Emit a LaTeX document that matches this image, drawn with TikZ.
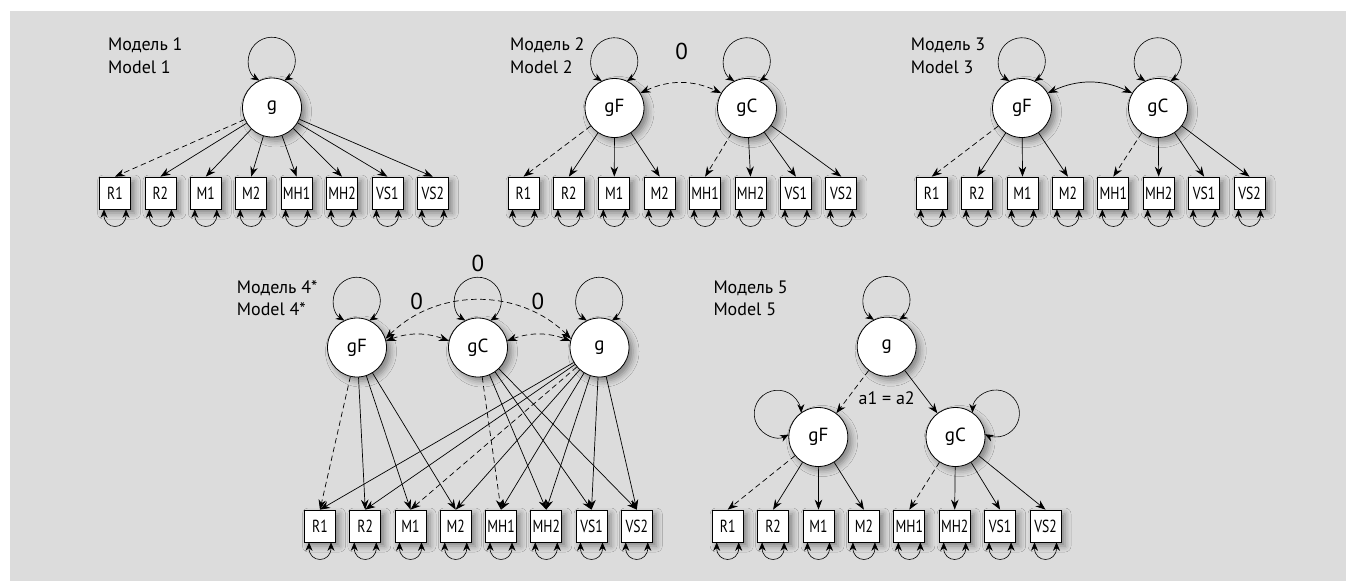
\documentclass[tikz,border=0pt]{standalone}
\usepackage{fontspec}
\setmainfont{PT Sans}
\newfontfamily\boxfont[FakeStretch=0.78]{PT Sans}
\usetikzlibrary{arrows.meta,shadows.blur,calc}
\definecolor{bggray}{RGB}{220,220,220}
\newcommand\sloop[2]{\draw[lp] ([shift={(#2+25.3:29.8)}]#1.center) arc[start angle=#2+147.6, end angle=#2-147.6, radius=23.5];}
\newcommand\rloop[1]{\draw[lp] ([xshift=-11pt]#1.south) .. controls +(0,-21) and +(0,-21) .. ([xshift=11pt]#1.south);}
\begin{document}
\begin{tikzpicture}[x=1pt,y=1pt,
  shd/.style={blur shadow={shadow xshift=4pt,shadow yshift=-4pt,shadow blur radius=6pt,shadow opacity=40}},
  lat/.style={circle,draw,line width=0.8pt,fill=white,minimum size=59pt,inner sep=0pt,font=\fontsize{19}{21}\selectfont,shd},
  obs/.style={rectangle,draw,line width=0.7pt,fill=white,minimum width=31pt,minimum height=32pt,inner sep=0pt,font=\boxfont\fontsize{17.5}{19}\selectfont,shd},
  ld/.style={line width=0.7pt,-{Stealth[length=10pt,width=7.5pt]}},
  cv/.style={line width=0.7pt,{Stealth[length=10pt,width=7.5pt]}-{Stealth[length=10pt,width=7.5pt]}},
  lp/.style={line width=0.6pt,{Stealth[length=8.5pt,width=7pt]}-{Stealth[length=8.5pt,width=7pt]}},
  dsh/.style={dash pattern=on 5.5pt off 3.5pt},
  ttl/.style={anchor=base west,inner sep=0pt,font=\fontsize{18}{21}\selectfont},
  zero/.style={font=\fontsize{23}{25}\selectfont,inner sep=0pt},
  lbl/.style={font=\fontsize{18}{20}\selectfont,inner sep=0pt}]
\useasboundingbox (0,0) rectangle (1346,-581);
\fill[white] (0,0) rectangle (1346,-581);
\fill[bggray] (10,-11) rectangle (1346,-581);

% ---------- Model 1 ----------
\node[ttl] (t1a) at (108,-50) {Модель 1};
\node[ttl] (t1b) at (108,-73) {Model 1};
\foreach \lab [count=\i from 0] in {R1,R2,M1,M2,MH1,MH2,VS1,VS2}
  {\node[obs] (a\i) at (115+45.4*\i,-193) {\lab};}
\node[lat] (ag) at (272,-107.5) {g};
\sloop{ag}{90}
\draw[ld,dsh] (ag) -- (a0.north);
\foreach \i in {1,...,7} {\draw[ld] (ag) -- (a\i.north);}
\foreach \i in {0,...,7} {\rloop{a\i}}

% ---------- Model 2 ----------
\node[ttl] (t2a) at (510,-50) {Модель 2};
\node[ttl] (t2b) at (510,-73) {Model 2};
\foreach \lab [count=\i from 0] in {R1,R2,M1,M2,MH1,MH2,VS1,VS2}
  {\node[obs] (b\i) at (523.5+45.4*\i,-193) {\lab};}
\node[lat] (bF) at (614.5,-108) {gF};
\node[lat] (bC) at (747,-108) {gC};
\sloop{bF}{90}
\sloop{bC}{90}
\draw[cv,dsh] (bF.30) to[bend left=25] (bC.150);
\node[zero] (z2) at (681.7,-51.7) {0};
\draw[ld,dsh] (bF) -- (b0.north);
\foreach \i in {1,2,3} {\draw[ld] (bF) -- (b\i.north);}
\draw[ld,dsh] (bC) -- (b4.north);
\foreach \i in {5,6,7} {\draw[ld] (bC) -- (b\i.north);}
\foreach \i in {0,...,7} {\rloop{b\i}}

% ---------- Model 3 ----------
\node[ttl] (t3a) at (910.7,-50) {Модель 3};
\node[ttl] (t3b) at (910.7,-73) {Model 3};
\foreach \lab [count=\i from 0] in {R1,R2,M1,M2,MH1,MH2,VS1,VS2}
  {\node[obs] (c\i) at (931.7+45.4*\i,-193) {\lab};}
\node[lat] (cF) at (1022,-108) {gF};
\node[lat] (cC) at (1158,-108) {gC};
\sloop{cF}{90}
\sloop{cC}{90}
\draw[cv] (cF.30) to[bend left=25] (cC.150);
\draw[ld,dsh] (cF) -- (c0.north);
\foreach \i in {1,2,3} {\draw[ld] (cF) -- (c\i.north);}
\draw[ld,dsh] (cC) -- (c4.north);
\foreach \i in {5,6,7} {\draw[ld] (cC) -- (c\i.north);}
\foreach \i in {0,...,7} {\rloop{c\i}}

% ---------- Model 4 ----------
\node[ttl] (t4a) at (236.7,-293.3) {Модель 4*};
\node[ttl] (t4b) at (236.7,-315) {Model 4*};
\foreach \lab [count=\i from 0] in {R1,R2,M1,M2,MH1,MH2,VS1,VS2}
  {\node[obs] (d\i) at (320+45.25*\i,-526) {\lab};}
\node[lat] (dF) at (357,-347.5) {gF};
\node[lat] (dC) at (478,-347.5) {gC};
\node[lat] (dG) at (599.5,-347.5) {g};
\sloop{dF}{90}
\sloop{dC}{90}
\sloop{dG}{90}
\draw[cv,dsh] (dF.13) to[bend left=20] (dC.167);
\draw[cv,dsh] (dC.13) to[bend left=20] (dG.167);
\draw[cv,dsh] (dF.17) to[bend left=45] (dG.163);
\node[zero] (z4a) at (416.7,-301.7) {0};
\node[zero] (z4b) at (538,-301.7) {0};
\node[zero] (z4c) at (478,-263.3) {0};
\draw[ld,dsh] (dF) -- (d0.north);
\foreach \i in {1,2,3} {\draw[ld] (dF) -- (d\i.north);}
\draw[ld,dsh] (dC) -- (d4.north);
\foreach \i in {5,6,7} {\draw[ld] (dC) -- (d\i.north);}
\draw[ld,dsh] (dG) -- (d2.north);
\foreach \i in {0,1,3,4,5,6,7} {\draw[ld] (dG) -- (d\i.north);}
\foreach \i in {0,...,7} {\rloop{d\i}}

% ---------- Model 5 ----------
\node[ttl] (t5a) at (713.3,-293.3) {Модель 5};
\node[ttl] (t5b) at (713.3,-315) {Model 5};
\foreach \lab [count=\i from 0] in {R1,R2,M1,M2,MH1,MH2,VS1,VS2}
  {\node[obs] (e\i) at (727.7+45.4*\i,-526) {\lab};}
\node[lat] (eG) at (886.7,-346.7) {g};
\node[lat] (eF) at (818.3,-437) {gF};
\node[lat] (eC) at (955.5,-437) {gC};
\sloop{eG}{90}
\sloop{eF}{150}
\sloop{eC}{30}
\draw[ld,dsh] (eG) -- (eF);
\draw[ld] (eG) -- (eC);
\node[lbl] (a12) at (886.7,-398) {a1 = a2};
\draw[ld,dsh] (eF) -- (e0.north);
\foreach \i in {1,2,3} {\draw[ld] (eF) -- (e\i.north);}
\draw[ld,dsh] (eC) -- (e4.north);
\foreach \i in {5,6,7} {\draw[ld] (eC) -- (e\i.north);}
\foreach \i in {0,...,7} {\rloop{e\i}}
\end{tikzpicture}
\end{document}
